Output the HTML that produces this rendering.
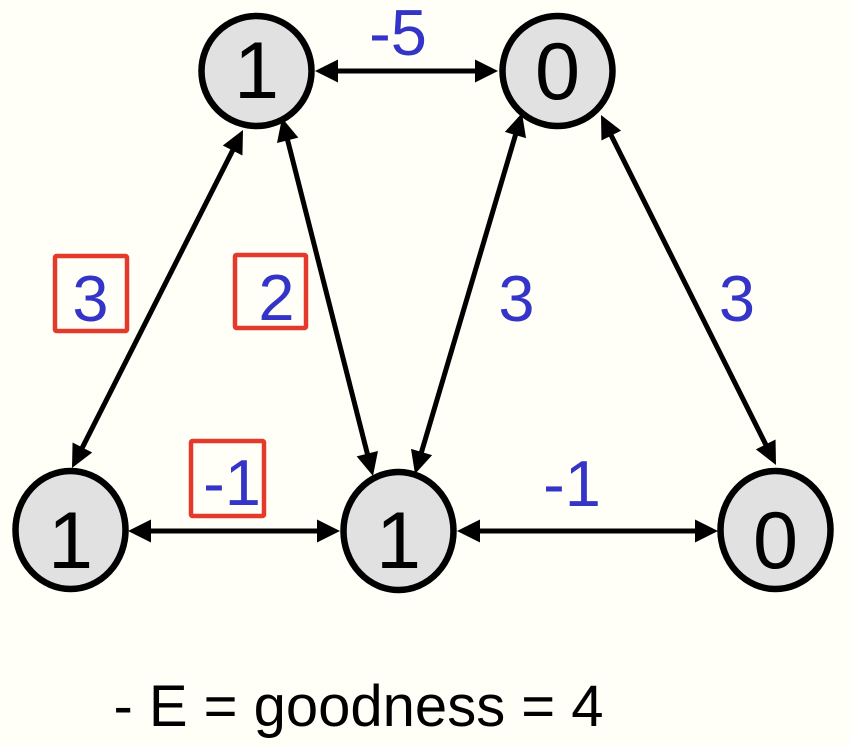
<!DOCTYPE html>
<html>
<head>
<meta charset="utf-8">
<style>
html,body{margin:0;padding:0;background:#fffff7;}
svg{display:block;}
text{font-family:"Liberation Sans",Arial,sans-serif;}
</style>
</head>
<body>
<svg width="850" height="746" viewBox="0 0 850 746" xmlns="http://www.w3.org/2000/svg">
<rect x="0" y="0" width="850" height="746" fill="#fffff7"/>

<!-- nodes -->
<g fill="#e1e1e1" stroke="#000" stroke-width="6.5">
  <circle cx="256.5" cy="71" r="55"/>
  <circle cx="557.5" cy="71" r="55"/>
  <ellipse cx="70.5" cy="530" rx="55" ry="59"/>
  <ellipse cx="398.5" cy="531" rx="55" ry="59"/>
  <ellipse cx="775.5" cy="530" rx="55" ry="59"/>
</g>

<!-- edges -->
<g stroke="#000" stroke-width="5" fill="none">
  <line x1="332" y1="71" x2="481" y2="71"/>
  <line x1="145" y1="531" x2="323" y2="531"/>
  <line x1="474" y1="531" x2="701" y2="531"/>
  <line x1="234.87" y1="146.06" x2="80.13" y2="451.94"/>
  <line x1="286.44" y1="135.45" x2="368.56" y2="458.55"/>
  <line x1="516.88" y1="130.26" x2="420.12" y2="456.74"/>
  <line x1="609.05" y1="131.10" x2="767.95" y2="448.90"/>
</g>
<g fill="#000">
  <polygon points="315,71 338,59.5 338,82.5"/>
  <polygon points="498,71 475,59.5 475,82.5"/>
  <polygon points="128,531 151,519.5 151,542.5"/>
  <polygon points="340,531 317,519.5 317,542.5"/>
  <polygon points="457,531 480,519.5 480,542.5"/>
  <polygon points="718,531 695,519.5 695,542.5"/>
  <polygon points="243,130 242.44,155.49 222.80,145.55"/>
  <polygon points="72,468 92.20,452.45 72.56,442.51"/>
  <polygon points="282,118 298.33,137.58 277.01,143.00"/>
  <polygon points="373,476 377.99,451.00 356.67,456.42"/>
  <polygon points="522,113 526.01,138.18 504.91,131.92"/>
  <polygon points="415,474 432.09,455.08 410.99,448.82"/>
  <polygon points="601,115 621.13,130.65 601.45,140.49"/>
  <polygon points="776,465 775.55,439.51 755.87,449.35"/>
</g>

<!-- node values -->
<g font-size="81" fill="#000" text-anchor="middle">
  <text x="256.5" y="98">1</text>
  <text x="557.5" y="99">0</text>
  <text x="70.5" y="568">1</text>
  <text x="398.5" y="568">1</text>
  <text x="775.5" y="568">0</text>
</g>

<!-- red boxes -->
<g fill="none" stroke="#e33a2b" stroke-width="4.5">
  <rect x="55" y="256" width="72" height="75" rx="1.5"/>
  <rect x="235" y="255" width="71" height="73" rx="1.5"/>
  <rect x="191" y="441" width="73" height="75" rx="1.5"/>
</g>

<!-- weights -->
<g font-size="65" fill="#3434c8" text-anchor="middle">
  <text x="398" y="55">-5</text>
  <text x="90.5" y="321">3</text>
  <text x="276.5" y="320">2</text>
  <text x="232" y="505">-1</text>
  <text x="516.5" y="321">3</text>
  <text x="737" y="321">3</text>
  <text x="572" y="506">-1</text>
</g>

<text x="358.5" y="726" font-size="58" fill="#000" text-anchor="middle">- E = goodness = 4</text>
</svg>
</body>
</html>
